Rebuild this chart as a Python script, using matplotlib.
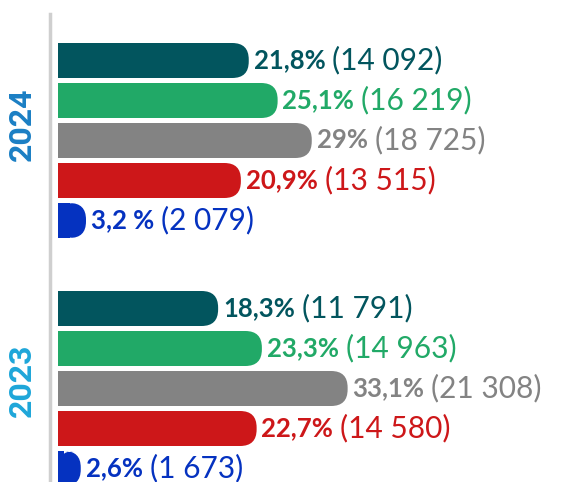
import matplotlib
matplotlib.use('Agg')
import matplotlib.pyplot as plt
import matplotlib.patches as mpatches
import matplotlib.transforms as mtransforms

years = ['2024', '2023']
year_colors = ['#1b7fc4', '#1ea6d9']
bar_colors = ['#02555e', '#21a967', '#838383', '#cd1719', '#0532c0']

pct_2024 = [21.8, 25.1, 29.0, 20.9, 3.2]
pct_2023 = [18.3, 23.3, 33.1, 22.7, 2.6]
pct_labels_2024 = ['21,8%', '25,1%', '29%', '20,9%', '3,2 %']
pct_labels_2023 = ['18,3%', '23,3%', '33,1%', '22,7%', '2,6%']
counts_2024 = ['(14 092)', '(16 219)', '(18 725)', '(13 515)', '(2 079)']
counts_2023 = ['(11 791)', '(14 963)', '(21 308)', '(14 580)', '(1 673)']

PX = 8.75     # pixels per percent
ROW = 40.0    # pixels per row
W, H = 562, 482
group_offset = [0.0, 6.2]

fig = plt.figure(figsize=(W / 100, H / 100), dpi=100)
ax = fig.add_axes([50 / W, 0, (W - 50) / W, 1])
ax.set_xlim(-8 / PX, (W - 58) / PX)
ax.set_ylim((H - 60.5) / ROW, -60.5 / ROW)
for s in ['top', 'right', 'bottom']:
    ax.spines[s].set_visible(False)
ax.spines['left'].set_color('#cfcfcf')
ax.spines['left'].set_linewidth(2.5)
ax.spines['left'].set_bounds((H - 60.5) / ROW, (14 - 60.5) / ROW)
ax.set_xticks([])
ax.set_yticks([])

bh = 35 / ROW
rx = 16.5 / PX
ry = 16.5 / ROW
fam = ['Lato', 'DejaVu Sans']

groups = [(pct_2024, pct_labels_2024, counts_2024), (pct_2023, pct_labels_2023, counts_2023)]
for g, (vals, plabs, clabs) in enumerate(groups):
    for i, v in enumerate(vals):
        y = group_offset[g] + i
        c = bar_colors[i]
        ax.add_patch(mpatches.Rectangle((0, y - bh / 2), max(v - rx, 0), bh,
                                        facecolor=c, edgecolor='none'))
        ax.add_patch(mpatches.FancyBboxPatch((0, y - bh / 2), v, bh,
                                             boxstyle=f'round,pad=0,rounding_size={rx}',
                                             mutation_aspect=ry / rx,
                                             facecolor=c, edgecolor='none'))
        t = ax.annotate(plabs[i], xy=(v, y), xytext=(3.5, 0), textcoords='offset points',
                        ha='left', va='center', fontsize=18.5, fontweight='bold',
                        color=c, family=fam)
        ax.annotate(clabs[i], xy=(1, 0.5), xycoords=t, xytext=(5, 0),
                    textcoords='offset points', ha='left', va='center',
                    fontsize=21.5, fontweight='normal', color=c, family=fam)

trans = mtransforms.blended_transform_factory(fig.transFigure, ax.transData)
year_y = [1.6, 6.2 + 1.8]
for yr, yy, yc in zip(years, year_y, year_colors):
    ax.text(22 / W, yy, yr, transform=trans, rotation=90, ha='center', va='center',
            fontsize=23, fontweight='bold', color=yc, family=['Roboto', 'DejaVu Sans'])

fig.savefig('out.png', dpi=100)
